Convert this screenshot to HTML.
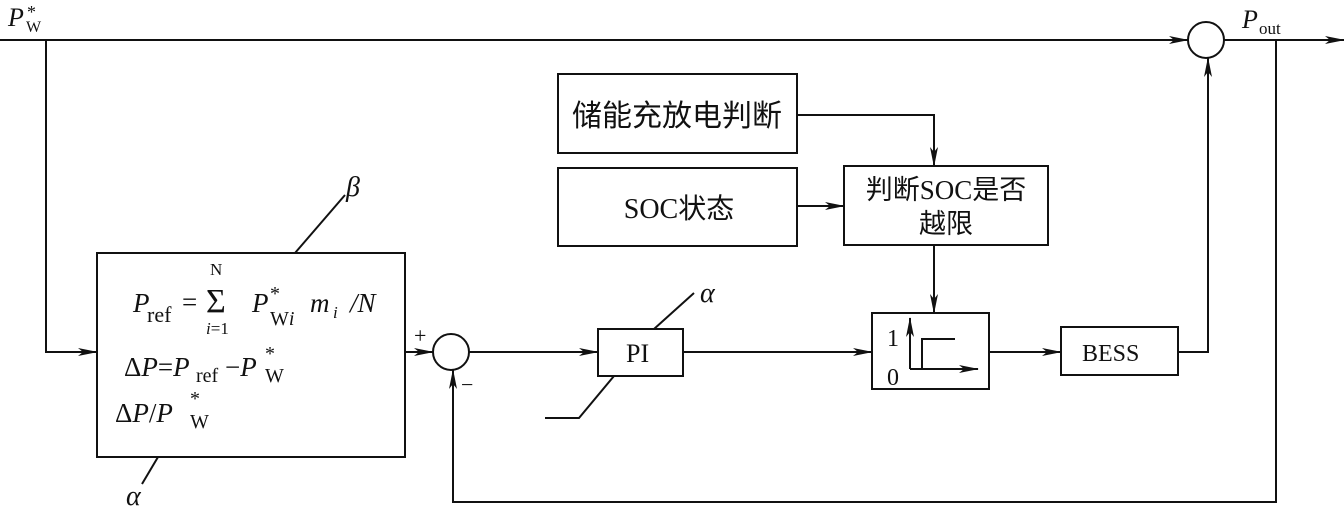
<!DOCTYPE html>
<html><head><meta charset="utf-8"><style>
html,body{margin:0;padding:0;background:#fff;}
svg{display:block}
text{font-family:"Liberation Serif","Noto Serif CJK SC",serif;fill:#111}
.cj{font-family:"Liberation Serif","Noto Sans CJK SC",sans-serif}
</style></head><body>
<svg width="1344" height="508" viewBox="0 0 1344 508" xmlns="http://www.w3.org/2000/svg">
<defs>
<marker id="a" markerWidth="20" markerHeight="10" refX="19" refY="5" orient="auto" markerUnits="userSpaceOnUse">
<path d="M0,1 L20,5 L0,9 L5,5 Z" fill="#111"/></marker>
</defs>
<g stroke="#111" stroke-width="2" fill="none">
<!-- top line -->
<line x1="0" y1="40" x2="1188" y2="40" marker-end="url(#a)"/>
<circle cx="1206" cy="40" r="18"/>
<line x1="1224" y1="40" x2="1344" y2="40" marker-end="url(#a)"/>
<!-- left input -->
<polyline points="46,40 46,352 97,352" marker-end="url(#a)"/>
<rect x="97" y="253" width="308" height="204"/>
<line x1="295" y1="253" x2="345" y2="195"/>
<line x1="158" y1="457" x2="142" y2="484"/>
<line x1="405" y1="352" x2="433" y2="352" marker-end="url(#a)"/>
<circle cx="451" cy="352" r="18"/>
<line x1="469" y1="352" x2="598" y2="352" marker-end="url(#a)"/>
<rect x="598" y="329" width="85" height="47"/>
<polyline points="545,418 579,418 614,376"/>
<line x1="654" y1="329" x2="694" y2="293"/>
<line x1="683" y1="352" x2="872" y2="352" marker-end="url(#a)"/>
<rect x="872" y="313" width="117" height="76"/>
<line x1="910" y1="369" x2="910" y2="318" marker-end="url(#a)"/>
<line x1="910" y1="369" x2="978" y2="369" marker-end="url(#a)"/>
<polyline points="922,369 922,339 955,339"/>
<line x1="989" y1="352" x2="1061" y2="352" marker-end="url(#a)"/>
<rect x="1061" y="327" width="117" height="48"/>
<polyline points="1178,352 1208,352 1208,58" marker-end="url(#a)"/>
<!-- feedback -->
<polyline points="1276,40 1276,502 453,502 453,370" marker-end="url(#a)"/>
<!-- upper boxes -->
<rect x="558" y="74" width="239" height="79"/>
<rect x="558" y="168" width="239" height="78"/>
<rect x="844" y="166" width="204" height="79"/>
<polyline points="797,115 934,115 934,166" marker-end="url(#a)"/>
<line x1="797" y1="206" x2="844" y2="206" marker-end="url(#a)"/>
<line x1="934" y1="245" x2="934" y2="313" marker-end="url(#a)"/>
</g>
<!-- labels -->
<text x="8" y="26" font-size="26" font-style="italic">P</text>
<text x="26" y="32" font-size="16">W</text>
<text x="27" y="18" font-size="18">*</text>
<text x="1242" y="28" font-size="26" font-style="italic">P</text>
<text x="1259" y="34" font-size="17">out</text>
<text x="346" y="196" font-size="28" font-style="italic">β</text>
<text x="126" y="505" font-size="28" font-style="italic">α</text>
<text x="700" y="302" font-size="28" font-style="italic">α</text>
<text x="414" y="343" font-size="22">+</text>
<text x="461" y="392" font-size="22">−</text>
<text x="626" y="362" font-size="26">PI</text>
<text x="1082" y="361" font-size="24">BESS</text>
<text x="887" y="346" font-size="24">1</text>
<text x="887" y="385" font-size="24">0</text>
<text class="cj" x="677" y="126" font-size="30" text-anchor="middle">储能充放电判断</text>
<text class="cj" x="679" y="218" font-size="28" text-anchor="middle">SOC状态</text>
<text class="cj" x="946" y="199" font-size="27" text-anchor="middle">判断SOC是否</text>
<text class="cj" x="946" y="233" font-size="27" text-anchor="middle">越限</text>
<!-- formulas -->
<text x="133" y="312" font-size="27" font-style="italic">P</text>
<text x="147" y="322" font-size="22">ref</text>
<text x="182" y="311" font-size="27">=</text>
<text x="210" y="275" font-size="17">N</text>
<text x="206" y="312" font-size="34">Σ</text>
<text x="206" y="334" font-size="17"><tspan font-style="italic">i</tspan>=1</text>
<text x="252" y="312" font-size="27" font-style="italic">P</text>
<text x="270" y="300" font-size="20">*</text>
<text x="270" y="325" font-size="20">W<tspan font-style="italic">i</tspan></text>
<text x="310" y="312" font-size="27" font-style="italic">m</text>
<text x="333" y="318" font-size="17" font-style="italic">i</text>
<text x="350" y="312" font-size="27" font-style="italic">/N</text>
<text x="124" y="376" font-size="27">Δ<tspan font-style="italic">P</tspan>=<tspan font-style="italic">P</tspan></text>
<text x="196" y="382" font-size="20">ref</text>
<text x="225" y="376" font-size="27">−<tspan font-style="italic">P</tspan></text>
<text x="265" y="360" font-size="20">*</text>
<text x="265" y="382" font-size="20">W</text>
<text x="115" y="422" font-size="27">Δ<tspan font-style="italic">P</tspan>/<tspan font-style="italic">P</tspan></text>
<text x="190" y="405" font-size="20">*</text>
<text x="190" y="428" font-size="20">W</text>
</svg>
</body></html>
